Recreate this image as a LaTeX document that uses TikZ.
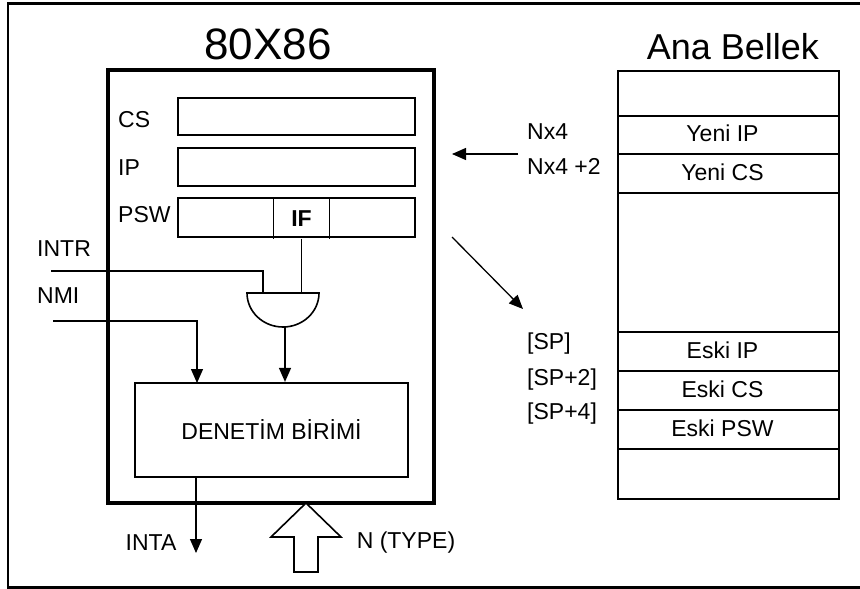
\documentclass[tikz,border=0pt]{standalone}
\usepackage{fontspec}
\setmainfont{Liberation Sans}
\usetikzlibrary{arrows.meta}

\begin{document}
\begin{tikzpicture}[x=1pt,y=-1pt,
  txt/.style={font=\fontsize{23}{26}\selectfont,inner sep=0pt},
  reg/.style={draw,line width=2.6pt,minimum width=237,inner sep=0pt},
  cell/.style={draw,line width=1.2pt,minimum width=221,inner sep=0pt},
  wire/.style={line width=1.3pt},
  arr/.style={line width=1.3pt,-{Triangle[length=14pt,width=12pt]}}]
  \clip (0,0) rectangle (860,589);
  \draw[line width=2.6pt] (8,3.5) rectangle (870,587.5);
  % processor side
  \node[font=\fontsize{44}{48}\selectfont] (cpuname) at (268,44) {80X86};
  \node[draw,line width=3.4pt,minimum width=326,minimum height=433] (cpu) at (271,286.5) {};
  \node[reg,minimum height=37] (cs) at (296.5,116.5) {};
  \node[reg,minimum height=38] (ip) at (296.5,167) {};
  \node[reg,minimum height=39] (psw) at (296.5,217.5) {};
  \node[txt,anchor=west] (cslbl) at (118,120) {CS};
  \node[txt,anchor=west] (iplbl) at (118,167.5) {IP};
  \node[txt,anchor=west] (pswlbl) at (118,215) {PSW};
  \node[txt,font=\fontsize{23}{26}\selectfont\bfseries,minimum width=55,minimum height=39] (ifbit) at (301.5,219) {IF};
  \draw[line width=1pt] (ifbit.north west) -- (ifbit.south west);
  \draw[line width=1pt] (ifbit.north east) -- (ifbit.south east);
  % and gate
  \draw[line width=1.6pt] (247,293) -- (319,293) arc[start angle=0,end angle=180,x radius=36,y radius=34] -- cycle;
  \coordinate (gin1) at (263,293);
  \coordinate (gin2) at (301.5,293);
  \coordinate (gout) at (285,327);
  \node[draw,line width=2.2pt,minimum width=273,minimum height=94,txt] (ctrl) at (271.5,430) {DENETİM BİRİMİ};
  \node[txt,anchor=west] (intrlbl) at (37,248.5) {INTR};
  \node[txt,anchor=west] (nmilbl) at (37,296) {NMI};
  \coordinate (intr) at (51,271);
  \coordinate (nmi) at (53,321);
  \coordinate (nmiin) at (197,383);
  \coordinate (inta) at (196,553);
  \draw[wire] (ifbit.south) -- (gin2);
  \draw[wire] (intr) -| (gin1);
  \draw[arr] (nmi) -| (nmiin);
  \draw[arr] (gout) -- (gout |- ctrl.north);
  \draw[arr] (inta |- ctrl.south) -- (inta);
  \node[txt] (intalbl) at (151,542.5) {INTA};
  \node[txt] (ntype) at (406,542.5) {N (TYPE)};
  % type number input
  \draw[line width=1.6pt,fill=white] (306,503) -- (341,537) -- (318,537) -- (318,572)
    -- (294,572) -- (294,537) -- (271,537) -- cycle;
  % memory side
  \node[font=\fontsize{36}{40}\selectfont] (memname) at (733,47) {Ana Bellek};
  \node[cell,minimum height=45] (m0) at (728.5,93.5) {};
  \node[cell,minimum height=38] (m1) at (728.5,135) {};
  \node[cell,minimum height=39] (m2) at (728.5,173.5) {};
  \node[cell,minimum height=139] (m3) at (728.5,262.5) {};
  \node[cell,minimum height=39] (m4) at (728.5,351.5) {};
  \node[cell,minimum height=39] (m5) at (728.5,390.5) {};
  \node[cell,minimum height=39] (m6) at (728.5,429.5) {};
  \node[cell,minimum height=50] (m7) at (728.5,474) {};
  \node[txt] (newip) at (722.5,133) {Yeni IP};
  \node[txt] (newcs) at (722.5,172) {Yeni CS};
  \node[txt] (oldip) at (722.5,350) {Eski IP};
  \node[txt] (oldcs) at (722.5,389) {Eski CS};
  \node[txt] (oldpsw) at (722.5,428) {Eski PSW};
  \node[txt,anchor=west] (vec1) at (527,131.5) {Nx4};
  \node[txt,anchor=west] (vec2) at (527,166.5) {Nx4 +2};
  \node[txt,anchor=west] (sp0) at (527,344) {[SP]};
  \node[txt,anchor=west] (sp2) at (527,380) {[SP+2]};
  \node[txt,anchor=west] (sp4) at (527,414) {[SP+4]};
  \coordinate (loadfrom) at (518,154);
  \coordinate (loadto) at (452,154);
  \coordinate (pushfrom) at (452,237);
  \coordinate (pushto) at (523,309);
  \draw[arr] (loadfrom) -- (loadto);
  \draw[arr] (pushfrom) -- (pushto);
\end{tikzpicture}
\end{document}
